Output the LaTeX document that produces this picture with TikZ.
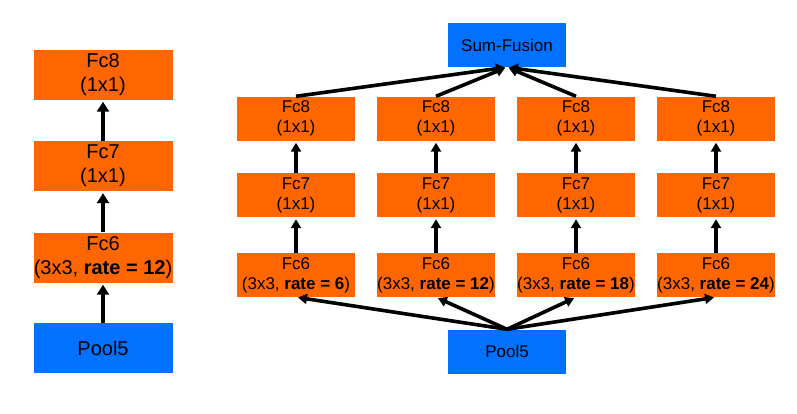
\documentclass[tikz,border=0pt]{standalone}
\usepackage{fontspec}
\setmainfont{Liberation Sans}
\usetikzlibrary{arrows.meta}
\definecolor{fcColour}{RGB}{255,102,0}
\definecolor{poolColour}{RGB}{0,114,255}
\tikzset{
  bigBox/.style={inner sep=0pt, align=center, minimum width=139, minimum height=50,
    font=\fontsize{20}{24}\selectfont},
  smallBox/.style={inner sep=0pt, align=center, minimum width=118, minimum height=44,
    font=\fontsize{17}{20}\selectfont},
  fcLayer/.style={fill=fcColour},
  poolLayer/.style={fill=poolColour},
  flow/.style={-{Triangle[length=10pt, width=12pt]}, line width=4.6pt, shorten >=2pt},
  thinFlow/.style={-{Triangle[length=9pt, width=10pt]}, line width=3.6pt, shorten >=2pt}
}

\begin{document}
\begin{tikzpicture}[x=1pt, y=-1pt]
		\useasboundingbox (0, 0) rectangle (797, 413);

		% the plain network
		\node[bigBox, poolLayer] (pool) at (103, 348) {Pool5};
		\node[bigBox, fcLayer] (fc6) at (103, 257.5) {Fc6\\(3x3, \textbf{rate = 12})};
		\node[bigBox, fcLayer] (fc7) at (103, 166) {Fc7\\(1x1)};
		\node[bigBox, fcLayer] (fc8) at (103, 74.5) {Fc8\\(1x1)};
		\draw[flow] (pool) -- (fc6);
		\draw[flow] (fc6) -- (fc7);
		\draw[flow] (fc7) -- (fc8);

		% the four branches
		\node[smallBox, poolLayer] (poolR) at (507, 351.5) {Pool5};
		\node[smallBox, poolLayer] (fusion) at (507, 45) {Sum-Fusion};
		\foreach \i/\r in {1/6, 2/12, 3/18, 4/24} {
			\node[smallBox, fcLayer] (fc6-\i) at (156 + 140*\i, 275) {Fc6\\(3x3, \textbf{rate = \r})};
			\node[smallBox, fcLayer] (fc7-\i) at (156 + 140*\i, 195) {Fc7\\(1x1)};
			\node[smallBox, fcLayer] (fc8-\i) at (156 + 140*\i, 118.5) {Fc8\\(1x1)};
			\draw[thinFlow] (fc6-\i) -- (fc7-\i);
			\draw[thinFlow] (fc7-\i) -- (fc8-\i);
			\draw[thinFlow] (poolR.north) -- (fc6-\i.south);
			\draw[thinFlow] (fc8-\i.north) -- (fusion.south);
		}
	\end{tikzpicture}
\end{document}
